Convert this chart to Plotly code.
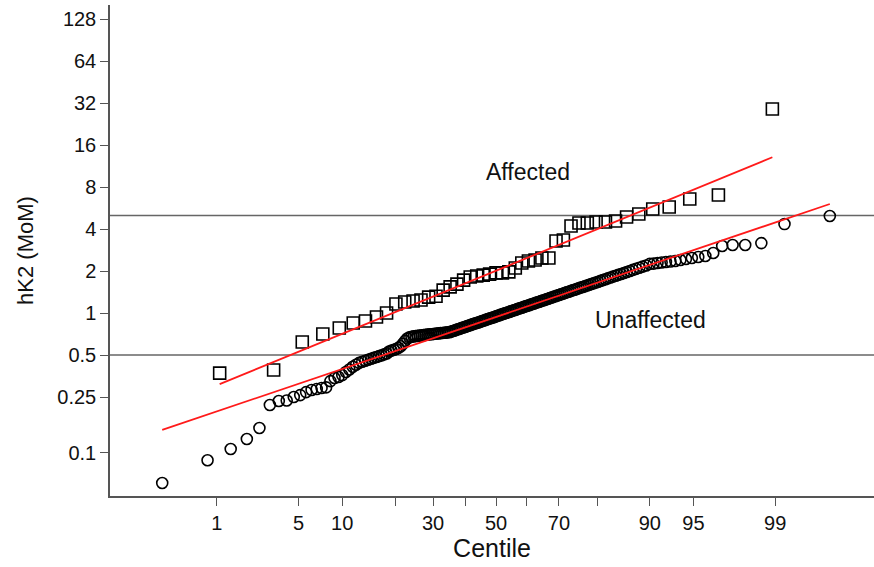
import math
from statistics import NormalDist
import plotly.graph_objects as go

# ---- data (hK2 MoM, sorted) ----
affected = [0.371, 0.390, 0.620, 0.707, 0.781, 0.848, 0.877, 0.936, 1.00, 1.16,
            1.20, 1.22, 1.24, 1.30, 1.32, 1.46, 1.54, 1.61, 1.72, 1.81,
            1.84, 1.87, 1.90, 1.94, 1.94, 1.97, 2.10, 2.28, 2.36, 2.40,
            2.48, 2.48, 3.28, 3.34, 4.20, 4.42, 4.42, 4.49, 4.49, 4.56,
            4.88, 5.12, 5.56, 5.75, 6.56, 7.01, 29.0]

unaffected = [0.0605, 0.088, 0.106, 0.125, 0.150, 0.219, 0.234, 0.236, 0.250, 0.258,
              0.271, 0.281, 0.285, 0.290, 0.293, 0.325, 0.342, 0.348, 0.359, 0.378,
              0.394, 0.412, 0.426, 0.439, 0.447, 0.455, 0.462, 0.470, 0.477, 0.484,
              0.491, 0.497, 0.505, 0.513, 0.530, 0.538, 0.545, 0.552, 0.563, 0.578,
              0.602, 0.631, 0.656, 0.669, 0.676, 0.680, 0.683, 0.686, 0.689, 0.692,
              0.694, 0.697, 0.700, 0.703, 0.705, 0.708, 0.710, 0.713, 0.715, 0.717,
              0.719, 0.722, 0.724, 0.726, 0.728, 0.736, 0.743, 0.750, 0.757, 0.765,
              0.772, 0.780, 0.787, 0.794, 0.802, 0.809, 0.817, 0.825, 0.832, 0.840,
              0.848, 0.855, 0.863, 0.872, 0.879, 0.888, 0.896, 0.904, 0.913, 0.920,
              0.929, 0.937, 0.946, 0.955, 0.963, 0.973, 0.981, 0.990, 0.999, 1.008,
              1.018, 1.027, 1.036, 1.047, 1.056, 1.066, 1.076, 1.085, 1.095, 1.106,
              1.116, 1.127, 1.138, 1.148, 1.159, 1.170, 1.182, 1.193, 1.205, 1.217,
              1.229, 1.240, 1.253, 1.266, 1.279, 1.292, 1.305, 1.318, 1.332, 1.346,
              1.360, 1.375, 1.390, 1.405, 1.420, 1.435, 1.452, 1.467, 1.484, 1.501,
              1.520, 1.537, 1.556, 1.575, 1.594, 1.613, 1.635, 1.655, 1.676, 1.699,
              1.722, 1.746, 1.770, 1.795, 1.823, 1.848, 1.876, 1.906, 1.937, 1.968,
              2.002, 2.038, 2.073, 2.111, 2.151, 2.193, 2.25, 2.26, 2.28, 2.30,
              2.32, 2.34, 2.36, 2.40, 2.44, 2.48, 2.52, 2.56, 2.69, 3.02,
              3.07, 3.07, 3.17, 4.34, 4.96]

# fitted log-normal lines: median MoM and log10 SD
fit_affected = {"median": 2.01, "log10_sd": 0.353}
fit_unaffected = {"median": 0.937, "log10_sd": 0.291}

centile_ticks = [1, 5, 10, 20, 30, 40, 50, 60, 70, 80, 90, 95, 99]
centile_labels = ["1", "5", "10", "", "30", "", "50", "", "70", "", "90", "95", "99"]
y_ticks = [0.1, 0.25, 0.5, 1, 2, 4, 8, 16, 32, 64, 128]
y_labels = ["0.1", "0.25", "0.5", "1", "2", "4", "8", "16", "32", "64", "128"]
cutoffs = [0.5, 5]

nd = NormalDist()


def positions(n):
    return [nd.inv_cdf((i - 0.5) / n) for i in range(1, n + 1)]


za = positions(len(affected))
zu = positions(len(unaffected))


def fit_line(z, fit):
    zs = [z[0], z[-1]]
    return zs, [fit["median"] * 10 ** (fit["log10_sd"] * q) for q in zs]

FONT = "Arial, Liberation Sans, sans-serif"
fig = go.Figure()

xr = [-3.217, 3.15]
for c in cutoffs:
    fig.add_trace(go.Scatter(x=xr, y=[c, c], mode="lines",
                             line=dict(color="#666666", width=1.6),
                             hoverinfo="skip", showlegend=False))

fig.add_trace(go.Scatter(x=zu, y=unaffected, mode="markers",
                         marker=dict(symbol="circle-open", size=11, color="black",
                                     line=dict(width=1.6, color="black")),
                         showlegend=False))
fig.add_trace(go.Scatter(x=za, y=affected, mode="markers",
                         marker=dict(symbol="square-open", size=12, color="black",
                                     line=dict(width=1.6, color="black")),
                         showlegend=False))

lx, ly = fit_line(zu, fit_unaffected)
fig.add_trace(go.Scatter(x=lx, y=ly, mode="lines", line=dict(color="#ff1a1a", width=1.8),
                         showlegend=False))
lx, ly = fit_line(za, fit_affected)
fig.add_trace(go.Scatter(x=lx, y=ly, mode="lines", line=dict(color="#ff1a1a", width=1.8),
                         showlegend=False))

fig.add_annotation(x=0.267, y=math.log10(10.2), text="Affected", showarrow=False,
                   font=dict(family=FONT, size=23, color="#111"))
fig.add_annotation(x=1.29, y=math.log10(0.89), text="Unaffected", showarrow=False,
                   font=dict(family=FONT, size=23, color="#111"))

fig.update_layout(
    width=874, height=567,
    margin=dict(l=110, r=0, t=5, b=71),
    paper_bgcolor="white", plot_bgcolor="white",
    font=dict(family=FONT, size=20, color="#111"),
    xaxis=dict(range=xr, tickvals=[nd.inv_cdf(c / 100) for c in centile_ticks],
               ticktext=centile_labels, ticks="outside", ticklen=8, tickcolor="#555",
               showline=True, linecolor="#555", linewidth=1.5, showgrid=False,
               zeroline=False, tickfont=dict(size=20),
               title=dict(text="Centile", font=dict(size=25), standoff=6)),
    yaxis=dict(type="log", range=[math.log10(0.0488), math.log10(161.3)],
               tickvals=y_ticks, ticktext=y_labels, ticks="outside", ticklen=8,
               tickcolor="#555", showline=True, linecolor="#555", linewidth=1.5,
               showgrid=False, zeroline=False, tickfont=dict(size=20),
               title=dict(text="hK2 (MoM)", font=dict(size=22), standoff=18)),
)

fig.write_html("out.html", config={"displayModeBar": False},
               post_script="document.body.style.margin='0';")
